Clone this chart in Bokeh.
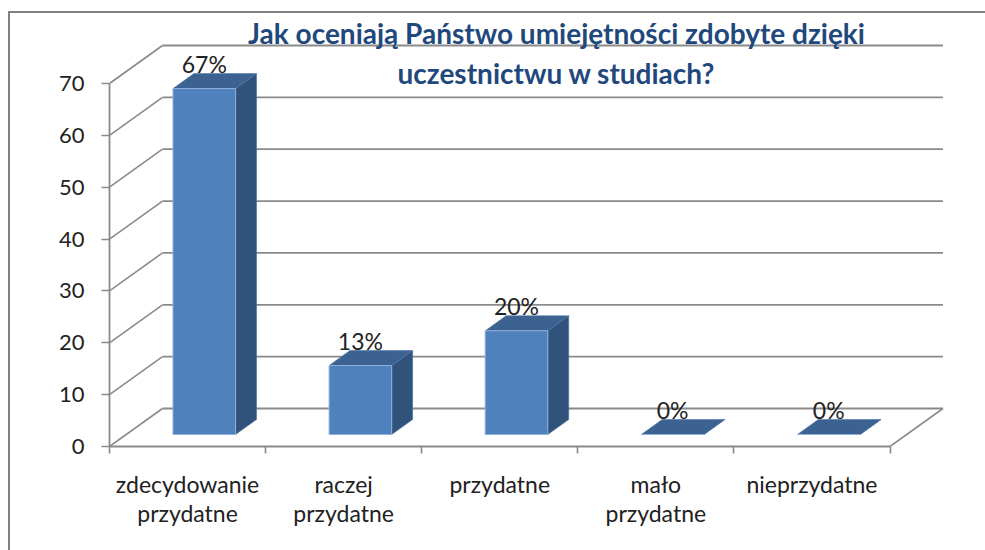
from bokeh.plotting import figure
from bokeh.models import Range1d, FixedTicker, LinearAxis, Label, ColumnDataSource
from bokeh.core.properties import value
from bokeh.embed import file_html
from bokeh.resources import INLINE

categories = ["zdecydowanie\nprzydatne", "raczej\nprzydatne", "przydatne", "mało\nprzydatne", "nieprzydatne"]
values = [66.7, 13.3, 20.0, 0.0, 0.0]
labels = ["67%", "13%", "20%", "0%", "0%"]
y_ticks = [0, 10, 20, 30, 40, 50, 60, 70]
title_text = "Jak oceniają Państwo umiejętności zdobyte dzięki\nuczestnictwu w studiach?"

FONT = "Lato"
GRID = "#8a8a8a"
W, H = 985, 550
LEFT, BOTTOM, TOP = 109, 104, 12
ZERO_Y = H - BOTTOM
PX_X = 156.1
PX_Y = 5.186
DX = 53 / PX_X
DY = 38 / PX_Y
BAR_W = 0.401
D0, D1 = 12 / 38, 27 / 38

p = figure(width=W, height=H, output_backend="svg", toolbar_location=None,
           x_range=Range1d(0, (W - LEFT) / PX_X), y_range=Range1d(0, (H - BOTTOM - TOP) / PX_Y),
           x_axis_type=None, y_axis_type=None, tools="",
           min_border_left=LEFT, min_border_right=0, min_border_top=TOP, min_border_bottom=BOTTOM)
p.outline_line_color = None
p.grid.visible = False
p.title.visible = False

# chart-area frame: only its left and top edges are inside the window
p.border_fill_color = None
p.background_fill_color = None
p.styles = {
    "background-image": "linear-gradient(#808080,#808080), linear-gradient(#808080,#808080)",
    "background-size": "2px 538px, 977px 2px",
    "background-position": "7.5px 12px, 7.5px 11px",
    "background-repeat": "no-repeat",
}

# walls
nc = len(categories)
p.segment([0 + DX] * len(y_ticks), [t + DY for t in y_ticks], [nc + DX] * len(y_ticks), [t + DY for t in y_ticks],
          line_color=GRID, line_width=1.8)
p.segment([0] * len(y_ticks), y_ticks, [DX] * len(y_ticks), [t + DY for t in y_ticks],
          line_color=GRID, line_width=1.6)
p.segment([nc], [0], [nc + DX], [DY], line_color=GRID, line_width=1.6)

# bars
front_x, front_y, side_x, side_y, top_x, top_y, lab_x, lab_y = [], [], [], [], [], [], [], []
for i, v in enumerate(values):
    x0 = i + 0.5 - BAR_W / 2 + D0 * DX
    x1 = x0 + BAR_W
    y0 = D0 * DY
    dx = (D1 - D0) * DX
    dy = (D1 - D0) * DY
    front_x.append([x0, x1, x1, x0]); front_y.append([y0, y0, y0 + v, y0 + v])
    side_x.append([x1, x1 + dx, x1 + dx, x1]); side_y.append([y0, y0 + dy, y0 + dy + v, y0 + v])
    top_x.append([x0, x1, x1 + dx, x0 + dx]); top_y.append([y0 + v, y0 + v, y0 + v + dy, y0 + v + dy])
    lab_x.append((x0 + x1) / 2); lab_y.append(y0 + v + dy)

p.patches(side_x, side_y, fill_color="#30527B", line_color="#4A6E9C", line_width=0.6)
p.patches(top_x, top_y, fill_color="#3C6291", line_color="#4F77A8", line_width=0.6)
p.patches(front_x, front_y, fill_color="#4F81BD", line_color="#8FB2DC", line_width=1)

src = ColumnDataSource(dict(x=lab_x, y=lab_y, t=labels))
p.text("x", "y", text="t", source=src, text_font=value(FONT), text_font_size="23px", text_color="#222222",
       text_align="center", text_baseline="bottom", y_offset=4)

# axes
yax = LinearAxis(ticker=FixedTicker(ticks=y_ticks), bounds=(0, 70))
yax.axis_line_color = GRID; yax.axis_line_width = 1.8
yax.major_tick_line_color = GRID; yax.major_tick_line_width = 1.6
yax.major_tick_in = 0; yax.major_tick_out = 8; yax.minor_tick_line_color = None
yax.major_label_standoff = 17
yax.major_label_text_font = FONT; yax.major_label_text_font_size = "22px"; yax.major_label_text_color = "#222222"
p.add_layout(yax, "left")

xax = LinearAxis(ticker=FixedTicker(ticks=[i + 0.5 for i in range(nc)], minor_ticks=list(range(nc + 1))), bounds=(0, nc))
xax.major_label_overrides = {i + 0.5: c for i, c in enumerate(categories)}
xax.axis_line_color = GRID; xax.axis_line_width = 1.8
xax.major_tick_line_color = None; xax.major_tick_in = 0; xax.major_tick_out = 0
xax.minor_tick_line_color = GRID; xax.minor_tick_line_width = 1.6; xax.minor_tick_in = 0; xax.minor_tick_out = 7
xax.major_label_standoff = 16
xax.major_label_text_font = FONT; xax.major_label_text_font_size = "23px"; xax.major_label_text_color = "#222222"
xax.major_label_text_line_height = 1.05
p.add_layout(xax, "below")

# title
p.add_layout(Label(x=(556 - LEFT) / PX_X, y=(ZERO_Y - 15) / PX_Y, text=title_text,
                   text_font=FONT, text_font_size="28px", text_font_style="bold", text_color="#1F497D",
                   text_align="center", text_baseline="top", text_line_height=1.2))

open("out.html", "w").write(file_html(p, INLINE))
